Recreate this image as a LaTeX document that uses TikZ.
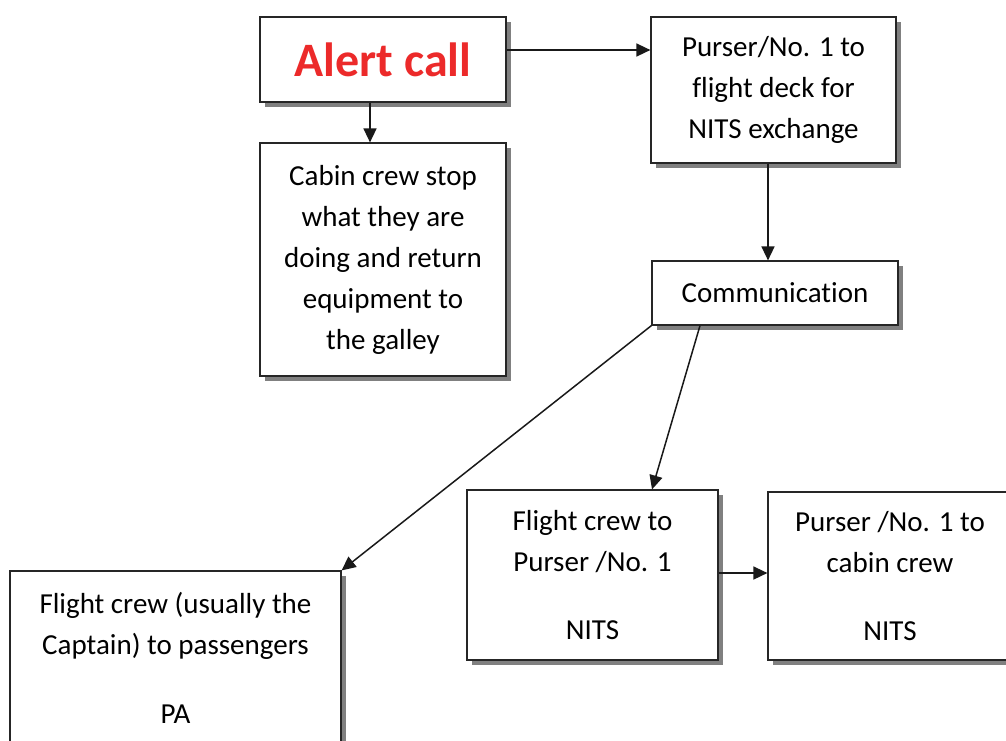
\documentclass[tikz,border=0pt]{standalone}
\usepackage{fontspec}
\setmainfont[Ligatures=NoCommon]{Carlito}
\usetikzlibrary{arrows.meta,shadows}
\definecolor{alertred}{RGB}{236,42,42}
\definecolor{shadowgray}{RGB}{128,128,128}
\begin{document}
\begin{tikzpicture}[x=1pt,y=-1pt,
  box/.style={draw=black!85, line width=1.2pt, fill=white, inner sep=0pt, align=center,
    font=\fontsize{29}{41}\selectfont,
    drop shadow={shadow xshift=5pt, shadow yshift=-5pt, fill=shadowgray, opacity=1}},
  arr/.style={line width=1.5pt, draw=black!90, -{Triangle[length=14pt,width=13pt]}}]
\useasboundingbox (0,0) rectangle (1006,740);
\clip (0,0) rectangle (1006,740);
\node[box, minimum width=246pt, minimum height=85pt] (alert) at (383,59.5)
  {\fontsize{48}{52}\selectfont\bfseries\color{alertred}Alert call};
\node[box, minimum width=245pt, minimum height=146pt] (purser) at (773.5,90)
  {Purser/No. 1 to\\flight deck for\\NITS exchange};
\node[box, minimum width=246pt, minimum height=233pt] (cabin) at (383,259.5)
  {Cabin crew stop\\what they are\\doing and return\\equipment to\\the galley};
\node[box, minimum width=246pt, minimum height=64pt] (comm) at (775,293)
  {Communication};
\node[box, minimum width=331pt, minimum height=174pt] (pax) at (175.5,658)
  {Flight crew (usually the\\Captain) to passengers\\[28pt]PA};
\node[box, minimum width=251pt, minimum height=170pt] (fcp) at (592.5,575)
  {Flight crew to\\Purser /No. 1\\[27pt]NITS};
\node[box, minimum width=244pt, minimum height=168pt] (pcc) at (890,576)
  {Purser /No. 1 to\\cabin crew\\[27pt]NITS};
\draw[arr] ([yshift=9.5pt]alert.east) -- ([yshift=9.5pt]alert.east -| purser.west);
\draw[arr] ([xshift=-13pt]alert.south) -- ([xshift=-13pt]alert.south |- cabin.north);
\draw[arr] ([xshift=-5.5pt]purser.south) -- ([xshift=-5.5pt]purser.south |- comm.north);
\draw[arr] (comm.south west) -- (pax.north east);
\draw[arr] ([xshift=-75pt]comm.south) -- ([xshift=59.5pt]fcp.north);
\draw[arr] ([yshift=2pt]fcp.east) -- ([yshift=2pt]fcp.east -| pcc.west);
\end{tikzpicture}
\end{document}
